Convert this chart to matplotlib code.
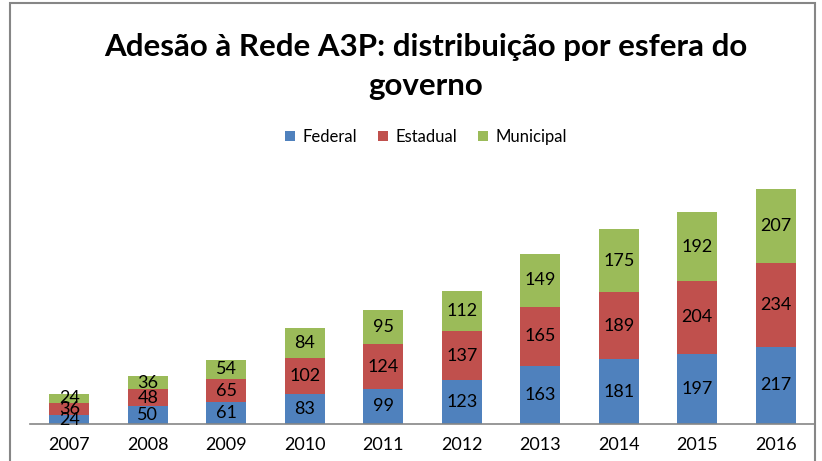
import numpy as np
import matplotlib
matplotlib.use("Agg")
import matplotlib.pyplot as plt
from matplotlib.patches import Rectangle

plt.rcParams['font.family'] = ['Lato', 'DejaVu Sans']

years = ['2007', '2008', '2009', '2010', '2011', '2012', '2013', '2014', '2015', '2016']
federal = [24, 50, 61, 83, 99, 123, 163, 181, 197, 217]
estadual = [36, 48, 65, 102, 124, 137, 165, 189, 204, 234]
municipal = [24, 36, 54, 84, 95, 112, 149, 175, 192, 207]

series = [('Federal', federal, '#4F81BD'),
          ('Estadual', estadual, '#C0504D'),
          ('Municipal', municipal, '#9BBB59')]

fig = plt.figure(figsize=(8.22, 4.61), dpi=100)
ax = fig.add_axes([30 / 822, (461 - 424) / 461, 785 / 822, 250 / 461])

x = np.arange(len(years))
bottom = np.zeros(len(years))
for name, vals, col in series:
    vals = np.array(vals)
    ax.bar(x, vals, 0.51, bottom=bottom, color=col, label=name)
    for xi, b, v in zip(x, bottom, vals):
        ax.text(xi, b + v / 2, str(v), ha='center', va='center', fontsize=13, color='black')
    bottom = bottom + vals

ax.set_xlim(-0.5, len(years) - 0.5)
ax.set_ylim(0, 700)
ax.set_yticks([])
ax.set_xticks(x)
ax.set_xticklabels(years, fontsize=13)
ax.tick_params(axis='x', length=0, pad=9)
for s in ['top', 'right', 'left']:
    ax.spines[s].set_visible(False)
ax.spines['bottom'].set_color('#868686')
ax.spines['bottom'].set_linewidth(1.2)

cx = 426 / 822
fig.text(cx, 1 - 47 / 461, 'Adesão à Rede A3P: distribuição por esfera do', ha='center', va='center',
         fontsize=22.5, fontweight='bold')
fig.text(cx, 1 - 86 / 461, 'governo', ha='center', va='center', fontsize=22.5, fontweight='bold')

fig.legend(loc='center', bbox_to_anchor=(cx, 1 - 137 / 461), ncol=3, frameon=False,
           fontsize=12, handlelength=0.6, handleheight=0.6, handletextpad=0.4, columnspacing=1.3)

# chart border
fig.patches.append(Rectangle((10 / 822, -0.05), 805 / 822, 1.05 - 3 / 461, transform=fig.transFigure,
                             fill=False, edgecolor='#868686', linewidth=1.5))

fig.savefig('out.png', dpi=100)
